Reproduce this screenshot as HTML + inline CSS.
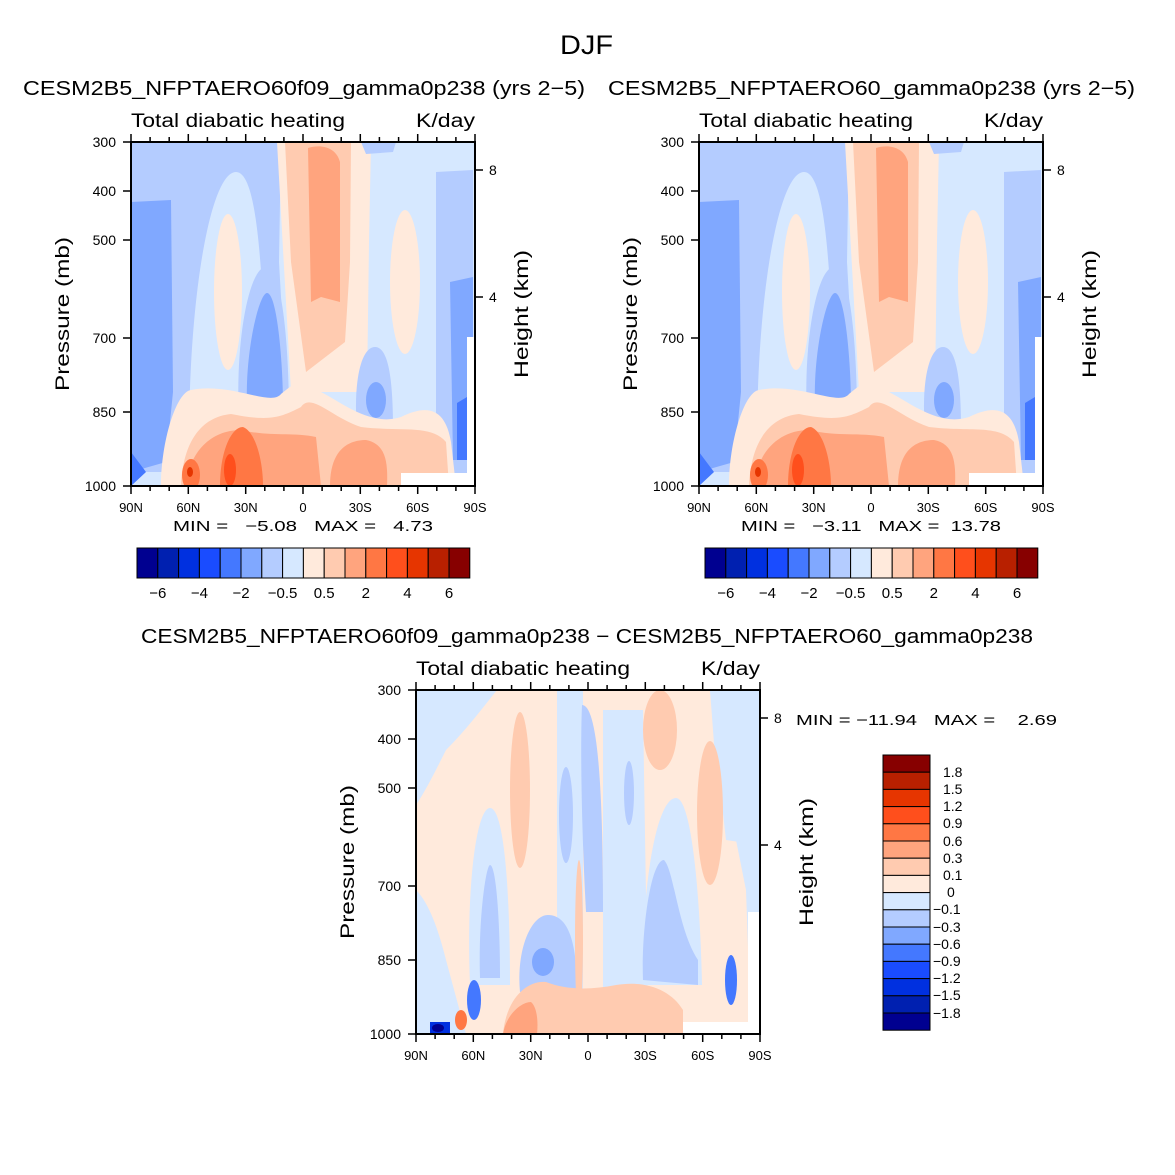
<!DOCTYPE html>
<html><head><meta charset="utf-8"><style>body{margin:0;background:#fff}svg{display:block}text{font-family:"Liberation Sans",sans-serif;fill:#000}</style></head>
<body>
<svg width="1175" height="1175" viewBox="0 0 1175 1175" xmlns="http://www.w3.org/2000/svg">
<defs>
<clipPath id="cp"><rect x="0" y="0" width="344" height="344"/></clipPath>
<g id="p1">
<g clip-path="url(#cp)">
<rect width="344" height="344" fill="#d6e8ff"/>
<path d="M0,0 H150 L148,120 L160,330 H0 Z" fill="#b4ccff"/>
<path d="M58,300 C58,150 80,30 105,30 C122,30 128,90 132,160 L140,300 Z" fill="#d6e8ff"/>
<ellipse cx="97" cy="150" rx="14" ry="78" fill="#ffeadc"/>
<path d="M108,275 C104,200 118,125 135,125 C152,125 158,210 158,275 Z" fill="#b4ccff"/>
<path d="M116,262 C114,210 128,151 136,151 C146,151 152,220 152,265 Z" fill="#80a8ff"/>
<path d="M0,60 L40,58 L42,250 L35,320 L0,330 Z" fill="#80a8ff"/>
<path d="M146,0 H240 L238,100 L236,250 L200,250 L160,250 Z" fill="#ffeadc"/>
<path d="M154,0 H220 L219,120 L214,200 L175,230 L160,120 Z" fill="#ffcbb0"/>
<path d="M177,6 C190,2 205,5 209,20 L209,160 L190,155 L180,160 Z" fill="#ffa47e"/>
<ellipse cx="274" cy="140" rx="15" ry="72" fill="#ffeadc"/>
<path d="M226,288 C222,240 230,205 244,205 C258,205 262,240 262,288 Z" fill="#b4ccff"/>
<ellipse cx="245" cy="258" rx="10" ry="18" fill="#80a8ff"/>
<path d="M230,0 H265 L262,10 L235,12 Z" fill="#b4ccff"/>
<path d="M305,30 L342,28 V344 H305 Z" fill="#b4ccff"/>
<path d="M319,140 L342,135 V318 H322 Z" fill="#80a8ff"/>
<path d="M326,261 L336,255 V318 H326 Z" fill="#4478ff"/>
<path d="M30,344 C30,300 45,250 60,248 C100,240 140,265 150,252 C165,240 175,230 190,250 C210,260 240,285 270,275 C300,260 315,270 320,300 L325,344 Z" fill="#ffeadc"/>
<path d="M50,344 C52,300 70,275 100,272 C140,280 150,275 170,265 C180,250 200,275 230,285 C270,290 300,282 315,300 L318,344 Z" fill="#ffcbb0"/>
<path d="M55,344 C58,310 80,288 110,288 C140,295 160,290 185,295 L190,344 Z" fill="#ffa47e"/>
<path d="M199,344 C199,310 215,298 235,298 C255,302 257,320 256,344 Z" fill="#ffa47e"/>
<path d="M89,344 C89,310 100,285 112,285 C125,290 132,320 132,344 Z" fill="#ff7744"/>
<ellipse cx="60" cy="333" rx="9" ry="16" fill="#ff7744"/>
<ellipse cx="99" cy="328" rx="6" ry="16" fill="#ff4f1c"/>
<ellipse cx="59" cy="330" rx="3" ry="5" fill="#e63500"/>
<path d="M0,310 L15,330 L0,344 Z" fill="#4478ff"/>
<path d="M270,331 H344 V344 H270 Z M336,195 H344 V344 H336 Z" fill="#fff"/>
</g>
<rect width="344" height="344" fill="none" stroke="#000" stroke-width="2"/>
</g>
<g id="p3">
<g clip-path="url(#cp)">
<rect width="344" height="344" fill="#d6e8ff"/>
<path d="M81,0 H294 L300,80 L320,150 L330,200 L335,344 H0 V115 C10,100 20,80 30,60 C50,40 65,20 81,0 Z" fill="#ffeadc"/>
<rect x="141" y="0" width="26" height="344" fill="#d6e8ff"/>
<path d="M166,15 C180,15 187,80 187,222 L170,222 C166,150 164,60 166,15 Z" fill="#b4ccff"/>
<ellipse cx="150" cy="125" rx="7" ry="48" fill="#b4ccff"/>
<path d="M187,20 L227,20 L232,330 L187,330 Z" fill="#d6e8ff"/>
<ellipse cx="213" cy="103" rx="5" ry="32" fill="#b4ccff"/>
<path d="M54,295 C50,200 60,118 74,118 C88,118 94,200 94,295 Z" fill="#d6e8ff"/>
<path d="M64,288 C62,230 70,175 74,175 C80,175 84,230 84,288 Z" fill="#b4ccff"/>
<path d="M0,200 C10,210 20,230 30,270 L50,344 H0 Z" fill="#d6e8ff"/>
<path d="M227,295 C225,200 240,108 260,108 C275,108 284,200 286,295 Z" fill="#d6e8ff"/>
<path d="M227,290 C225,240 235,170 248,170 C258,180 262,240 282,270 L282,295 Z" fill="#b4ccff"/>
<path d="M294,0 H344 V155 L310,150 L300,60 Z" fill="#d6e8ff"/>
<path d="M104,302 C100,260 115,225 132,225 C155,225 161,260 161,302 Z" fill="#b4ccff"/>
<ellipse cx="127" cy="272" rx="11" ry="14" fill="#80a8ff"/>
<ellipse cx="104" cy="100" rx="10" ry="78" fill="#ffcbb0"/>
<ellipse cx="244" cy="40" rx="17" ry="40" fill="#ffcbb0"/>
<ellipse cx="294" cy="123" rx="13" ry="72" fill="#ffcbb0"/>
<ellipse cx="163" cy="250" rx="4" ry="80" fill="#ffcbb0"/>
<path d="M87,344 C90,310 110,290 130,292 C150,300 175,300 200,295 C230,290 255,300 267,320 L267,344 Z" fill="#ffcbb0"/>
<path d="M87,344 C90,325 105,312 115,312 C122,318 122,335 121,344 Z" fill="#ffa47e"/>
<ellipse cx="58" cy="310" rx="7" ry="20" fill="#4478ff"/>
<rect x="14" y="332" width="20" height="12" fill="#0030e0"/>
<ellipse cx="22" cy="338" rx="6" ry="4" fill="#000090"/>
<ellipse cx="45" cy="330" rx="6" ry="10" fill="#ff7744"/>
<ellipse cx="315" cy="290" rx="6" ry="25" fill="#4478ff"/>
<path d="M267,332 H344 V344 H267 Z M332,222 H344 V344 H332 Z" fill="#fff"/>
</g>
<rect width="344" height="344" fill="none" stroke="#000" stroke-width="2"/>
</g>
<g id="axes" stroke="#000" stroke-width="1.5">
<path d="M0,0h-8M0,49h-8M0,98h-8M0,196h-8M0,270h-8M0,344h-8"/>
<path d="M344,28h8M344,155h8"/>
<path d="M0,344v8M57.3,344v8M114.7,344v8M172,344v8M229.3,344v8M286.7,344v8M344,344v8"/>
<path d="M19.1,344v5M38.2,344v5M76.4,344v5M95.6,344v5M133.8,344v5M152.9,344v5M191.1,344v5M210.2,344v5M248.4,344v5M267.6,344v5M305.8,344v5M324.9,344v5"/>
<path d="M0,0v-8M57.3,0v-8M114.7,0v-8M172,0v-8M229.3,0v-8M286.7,0v-8M344,0v-8"/>
<path d="M19.1,0v-5M38.2,0v-5M76.4,0v-5M95.6,0v-5M133.8,0v-5M152.9,0v-5M191.1,0v-5M210.2,0v-5M248.4,0v-5M267.6,0v-5M305.8,0v-5M324.9,0v-5"/>
</g>
<g id="lbl">
<g font-size="14" text-anchor="end"><text x="-15" y="5">300</text><text x="-15" y="54">400</text><text x="-15" y="103">500</text><text x="-15" y="201">700</text><text x="-15" y="275">850</text><text x="-15" y="349">1000</text></g>
<g font-size="14"><text x="358" y="33">8</text><text x="358" y="160">4</text></g>
<g font-size="13" text-anchor="middle"><text x="0" y="370">90N</text><text x="57.3" y="370">60N</text><text x="114.7" y="370">30N</text><text x="172" y="370">0</text><text x="229.3" y="370">30S</text><text x="286.7" y="370">60S</text><text x="344" y="370">90S</text></g>
<text x="-62" y="172" font-size="19" text-anchor="middle" textLength="154" lengthAdjust="spacingAndGlyphs" transform="rotate(-90 -62 172)">Pressure (mb)</text>
<text x="397" y="172" font-size="19" text-anchor="middle" textLength="128" lengthAdjust="spacingAndGlyphs" transform="rotate(-90 397 172)">Height (km)</text>
<text x="0" y="-15" font-size="19" textLength="214" lengthAdjust="spacingAndGlyphs">Total diabatic heating</text>
<text x="285" y="-15" font-size="19" textLength="59" lengthAdjust="spacingAndGlyphs">K/day</text>
</g>
<g id="cb" stroke="#000" stroke-width="1">
<rect x="0" width="20.8" height="30" fill="#000090"/><rect x="20.8" width="20.8" height="30" fill="#0020b0"/><rect x="41.6" width="20.8" height="30" fill="#0030e0"/><rect x="62.4" width="20.8" height="30" fill="#1a4cff"/><rect x="83.2" width="20.8" height="30" fill="#4478ff"/><rect x="104" width="20.8" height="30" fill="#80a8ff"/><rect x="124.8" width="20.8" height="30" fill="#b4ccff"/><rect x="145.6" width="20.8" height="30" fill="#d6e8ff"/><rect x="166.4" width="20.8" height="30" fill="#ffeadc"/><rect x="187.2" width="20.8" height="30" fill="#ffcbb0"/><rect x="208" width="20.8" height="30" fill="#ffa47e"/><rect x="228.8" width="20.8" height="30" fill="#ff7744"/><rect x="249.6" width="20.8" height="30" fill="#ff4f1c"/><rect x="270.4" width="20.8" height="30" fill="#e63500"/><rect x="291.2" width="20.8" height="30" fill="#b82000"/><rect x="312" width="20.8" height="30" fill="#870000"/>
<g font-size="15" text-anchor="middle" stroke="none"><text x="20.8" y="50">−6</text><text x="62.4" y="50">−4</text><text x="104" y="50">−2</text><text x="145.6" y="50">−0.5</text><text x="187.2" y="50">0.5</text><text x="228.8" y="50">2</text><text x="270.4" y="50">4</text><text x="312" y="50">6</text></g>
</g>
</defs>

<text x="560" y="54" font-size="27" textLength="53" lengthAdjust="spacingAndGlyphs">DJF</text>

<text x="23" y="95" font-size="20" textLength="562" lengthAdjust="spacingAndGlyphs">CESM2B5_NFPTAERO60f09_gamma0p238 (yrs 2−5)</text>
<g transform="translate(131,142)"><use href="#p1"/><use href="#axes"/><use href="#lbl"/></g>
<text x="173" y="531" font-size="15" xml:space="preserve" textLength="260" lengthAdjust="spacingAndGlyphs">MIN =   −5.08   MAX =   4.73</text>
<g transform="translate(137,548)"><use href="#cb"/></g>

<text x="608" y="95" font-size="20" textLength="527" lengthAdjust="spacingAndGlyphs">CESM2B5_NFPTAERO60_gamma0p238 (yrs 2−5)</text>
<g transform="translate(699,142)"><use href="#p1"/><use href="#axes"/><use href="#lbl"/></g>
<text x="741" y="531" font-size="15" xml:space="preserve" textLength="260" lengthAdjust="spacingAndGlyphs">MIN =   −3.11   MAX =  13.78</text>
<g transform="translate(705,548)"><use href="#cb"/></g>

<text x="141" y="643" font-size="20" textLength="892" lengthAdjust="spacingAndGlyphs">CESM2B5_NFPTAERO60f09_gamma0p238 − CESM2B5_NFPTAERO60_gamma0p238</text>
<g transform="translate(416,690)"><use href="#p3"/><use href="#axes"/><use href="#lbl"/></g>
<text x="796" y="725" font-size="15" xml:space="preserve" textLength="261" lengthAdjust="spacingAndGlyphs">MIN = −11.94   MAX =    2.69</text>

<g transform="translate(883,755)" stroke="#000" stroke-width="1">
<rect y="0" width="47" height="17.2" fill="#870000"/><rect y="17.2" width="47" height="17.2" fill="#b82000"/><rect y="34.4" width="47" height="17.2" fill="#e63500"/><rect y="51.6" width="47" height="17.2" fill="#ff4f1c"/><rect y="68.8" width="47" height="17.2" fill="#ff7744"/><rect y="86" width="47" height="17.2" fill="#ffa47e"/><rect y="103.2" width="47" height="17.2" fill="#ffcbb0"/><rect y="120.4" width="47" height="17.2" fill="#ffeadc"/><rect y="137.6" width="47" height="17.2" fill="#d6e8ff"/><rect y="154.8" width="47" height="17.2" fill="#b4ccff"/><rect y="172" width="47" height="17.2" fill="#80a8ff"/><rect y="189.2" width="47" height="17.2" fill="#4478ff"/><rect y="206.4" width="47" height="17.2" fill="#1a4cff"/><rect y="223.6" width="47" height="17.2" fill="#0030e0"/><rect y="240.8" width="47" height="17.2" fill="#0020b0"/><rect y="258" width="47" height="17.2" fill="#000090"/>
<g font-size="14" stroke="none"><text x="60" y="22">1.8</text><text x="60" y="39">1.5</text><text x="60" y="56">1.2</text><text x="60" y="73">0.9</text><text x="60" y="91">0.6</text><text x="60" y="108">0.3</text><text x="60" y="125">0.1</text><text x="64" y="142">0</text><text x="50" y="159">−0.1</text><text x="50" y="177">−0.3</text><text x="50" y="194">−0.6</text><text x="50" y="211">−0.9</text><text x="50" y="228">−1.2</text><text x="50" y="245">−1.5</text><text x="50" y="263">−1.8</text></g>
</g>
</svg>
</body></html>
